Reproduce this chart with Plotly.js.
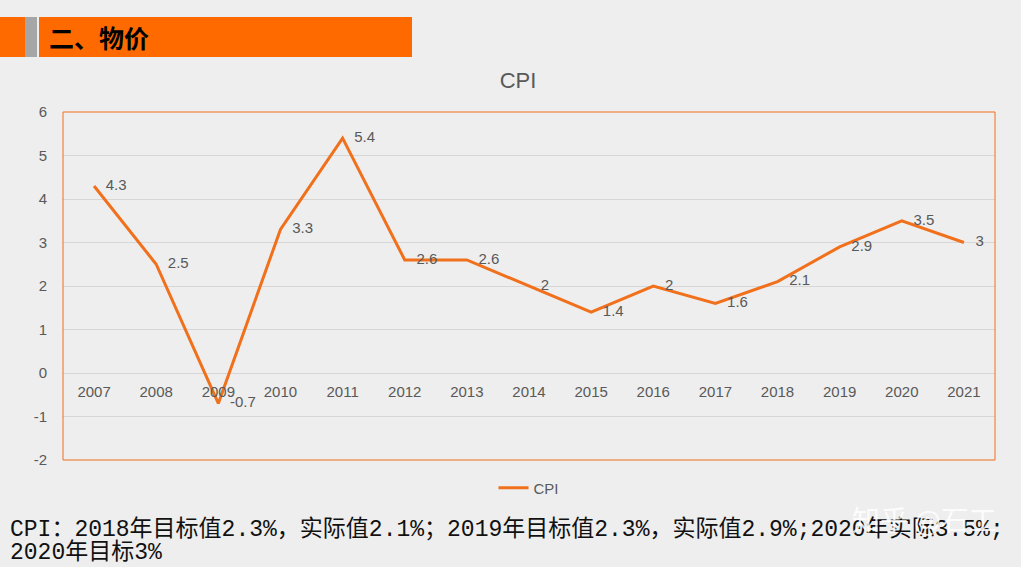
<!DOCTYPE html>
<html><head><meta charset="utf-8">
<script src="https://cdn.plot.ly/plotly-3.0.1.min.js"></script>
<style>html,body{margin:0;padding:0;background:#eeeeee;}#chart{width:1021px;height:567px;}</style>
</head><body><div id="chart"></div>
<script>
const years = ['2007','2008','2009','2010','2011','2012','2013','2014','2015','2016','2017','2018','2019','2020','2021'];
const cpi = [4.3, 2.5, -0.7, 3.3, 5.4, 2.6, 2.6, 2, 1.4, 2, 1.6, 2.1, 2.9, 3.5, 3];
const yTicks = [-2, -1, 0, 1, 2, 3, 4, 5, 6];
const header = '二、物价';
const chartTitle = 'CPI';
const note1 = 'CPI：2018年目标值2.3%，实际值2.1%；2019年目标值2.3%，实际值2.9%;2020年实际3.5%;';
const note2 = '2020年目标3%';

const W = 1021, H = 567, L = 63, R = 26, T = 112, B = 107;
const pw = W - L - R, ph = H - T - B;
const px = v => (v - L) / pw;
const py = v => (H - B - v) / ph;

const orange = '#F0701C';
const trace = {
  x: years, y: cpi, type: 'scatter', mode: 'lines+text', name: 'CPI',
  line: {color: orange, width: 3},
  text: cpi.map(v => '\u2002 ' + String(v)), textposition: 'middle right',
  textfont: {family: 'Liberation Sans, Arial', size: 15, color: '#595959'},
  cliponaxis: false, hoverinfo: 'skip'
};

const layout = {
  width: W, height: H,
  margin: {l: L, r: R, t: T, b: B},
  paper_bgcolor: '#eeeeee', plot_bgcolor: 'rgba(0,0,0,0)',
  font: {family: 'Liberation Sans, Arial', color: '#595959'},
  title: {text: chartTitle, x: px(518), xref: 'paper', xanchor: 'center', y: 1 - 80/H, yanchor: 'middle', font: {size: 22, color: '#595959'}},
  xaxis: {type: 'category', range: [-0.5, 14.5], anchor: 'free', position: 0.25,
    showline: false, showgrid: false, zeroline: false, ticks: '', ticklabelstandoff: 8,
    tickfont: {size: 15, color: '#595959'}, fixedrange: true},
  yaxis: {range: [-2, 6], tickvals: yTicks, ticktext: yTicks.map(String), showgrid: true, gridcolor: '#d6d6d6', gridwidth: 1,
    zeroline: true, zerolinecolor: '#d6d6d6', zerolinewidth: 1, showline: false, ticks: '',
    tickfont: {size: 15, color: '#595959'}, ticklabelstandoff: 15, fixedrange: true},
  showlegend: true,
  legend: {orientation: 'h', x: 0.5, xanchor: 'center', y: py(488), yanchor: 'middle',
    font: {size: 15, color: '#595959'}, bgcolor: 'rgba(0,0,0,0)'},
  shapes: [
    {type: 'rect', xref: 'paper', yref: 'paper', x0: 0, x1: 1, y0: 0, y1: 1, line: {color: '#F0701C', width: 1}, fillcolor: 'rgba(0,0,0,0)', layer: 'above'},
    {type: 'rect', xref: 'paper', yref: 'paper', x0: px(0), x1: px(25), y0: py(57), y1: py(17), line: {width: 0}, fillcolor: '#FF6A00'},
    {type: 'rect', xref: 'paper', yref: 'paper', x0: px(25), x1: px(37), y0: py(57), y1: py(17), line: {width: 0}, fillcolor: '#a6a6a6'},
    {type: 'rect', xref: 'paper', yref: 'paper', x0: px(39), x1: px(412), y0: py(57), y1: py(17), line: {width: 0}, fillcolor: '#FF6A00'}
  ],
  annotations: [
    {text: '<b>' + header + '</b>', xref: 'paper', yref: 'paper', x: px(47), y: py(37), xanchor: 'left', yanchor: 'middle', showarrow: false,
      font: {family: 'Noto Sans CJK SC', size: 25, color: '#000000'}},
    {text: note1, xref: 'paper', yref: 'paper', x: px(8), y: py(529), xanchor: 'left', yanchor: 'middle', showarrow: false,
      font: {family: 'Liberation Mono, Noto Sans CJK SC', size: 23, color: '#111111'}},
    {text: note2, xref: 'paper', yref: 'paper', x: px(8), y: py(552), xanchor: 'left', yanchor: 'middle', showarrow: false,
      font: {family: 'Liberation Mono, Noto Sans CJK SC', size: 23, color: '#111111'}},
    {text: '知乎 @石工', xref: 'paper', yref: 'paper', x: px(924), y: py(519), xanchor: 'center', yanchor: 'middle', showarrow: false,
      font: {family: 'Noto Sans CJK SC', size: 28, color: 'rgba(255,255,255,0.85)'}}
  ]
};

Plotly.newPlot('chart', [trace], layout, {displayModeBar: false, staticPlot: true});
</script></body></html>
